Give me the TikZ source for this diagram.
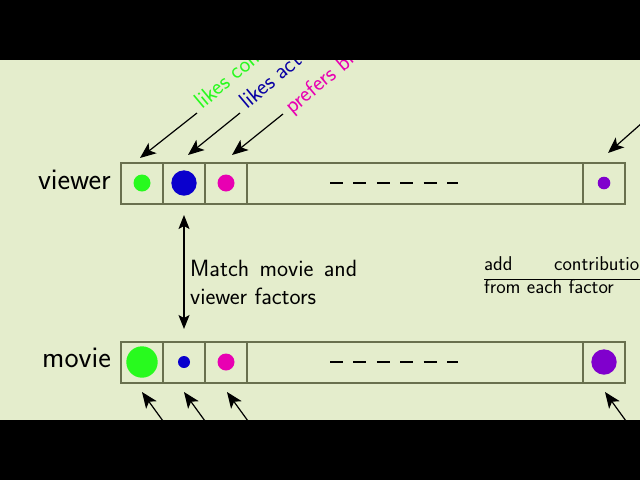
\documentclass[tikz,border=0pt]{standalone}
\usetikzlibrary{arrows.meta}
\definecolor{slidebg}{RGB}{228,237,204}
\definecolor{boxline}{RGB}{105,112,78}
\definecolor{fgreen}{RGB}{40,250,30}
\definecolor{fblue}{RGB}{10,0,205}
\definecolor{fmagenta}{RGB}{232,0,178}
\definecolor{fpurple}{RGB}{128,0,205}
\tikzset{
  factorbox/.style={draw=boxline,line width=1.1pt},
  pointer/.style={-{Stealth[length=16pt,width=13pt,inset=4pt]},line width=1.2pt},
  matcharrow/.style={{Stealth[length=14pt,width=11pt,inset=3pt]}-{Stealth[length=14pt,width=11pt,inset=3pt]},line width=1.2pt},
  rowlabel/.style={font=\sffamily\fontsize{30}{32}\selectfont,anchor=base east,inner sep=0pt},
  bodytext/.style={font=\sffamily\fontsize{23.5}{28}\selectfont,align=left,anchor=base west,inner sep=0pt},
  sidetext/.style={font=\sffamily\fontsize{20}{23}\selectfont,align=left,anchor=base west,inner sep=0pt},
  factorlabel/.style={font=\sffamily\fontsize{23}{26}\selectfont,anchor=base west,inner sep=0pt,rotate=40},
}
\begin{document}
\begin{tikzpicture}[x=1pt,y=-1pt]
  \useasboundingbox (0,0) rectangle (640,480);
  \fill[slidebg] (0,60) rectangle (640,420);
  \begin{scope}
    \clip (0,60) rectangle (640,420);
    % viewer row
    \draw[factorbox] (121,163) rectangle (625,204);
    \foreach \x in {163,205,247,583} \draw[factorbox] (\x,163) -- (\x,204);
    \fill[fgreen] (142,183) circle (8.5);
    \fill[fblue] (184,183) circle (12.7);
    \fill[fmagenta] (226,183) circle (8.5);
    \fill[fpurple] (604,183) circle (6.3);
    \draw[line width=2pt,dash pattern=on 13pt off 10.4pt] (330,183) -- (458,183);
    \node[rowlabel] (viewerlbl) at (111,189) {viewer};
    % movie row
    \draw[factorbox] (121,342) rectangle (625,383);
    \foreach \x in {163,205,247,583} \draw[factorbox] (\x,342) -- (\x,383);
    \fill[fgreen] (142,362) circle (15.7);
    \fill[fblue] (184,362) circle (6);
    \fill[fmagenta] (226,362) circle (8.5);
    \fill[fpurple] (604,362) circle (12.7);
    \draw[line width=2pt,dash pattern=on 13pt off 10.4pt] (330,362) -- (458,362);
    \node[rowlabel] (movielbl) at (111,367) {movie};
    % viewer factors
    \node[factorlabel,text=fgreen] (comedy) at (202,110) {likes com};
    \node[factorlabel,text=fblue!80!black] (action) at (247,110) {likes act};
    \node[factorlabel,text=fmagenta] (blockbuster) at (292,115) {prefers bl};
    \coordinate (vt1) at (197,113); \coordinate (vh1) at (140,158);
    \coordinate (vt2) at (240,113); \coordinate (vh2) at (188,155);
    \coordinate (vt3) at (283,114); \coordinate (vh3) at (232,155);
    \coordinate (vt4) at (642,123); \coordinate (vh4) at (608,153);
    \foreach \i in {1,...,4} \draw[pointer] (vt\i) -- (vh\i);
    % movie factors
    \coordinate (mt1) at (163,421); \coordinate (mh1) at (142,392);
    \coordinate (mt2) at (205,421); \coordinate (mh2) at (184,392);
    \coordinate (mt3) at (248,421); \coordinate (mh3) at (227,392);
    \coordinate (mt4) at (626,421); \coordinate (mh4) at (605,392);
    \foreach \i in {1,...,4} \draw[pointer] (mt\i) -- (mh\i);
    % matching
    \coordinate (mtop) at (184,215);
    \coordinate (mbot) at (184,329);
    \draw[matcharrow] (mtop) -- (mbot);
    \node[bodytext] (match) at (190,304) {\makebox[167pt][s]{Match movie and}\\viewer factors};
    \node[sidetext] (addup) at (484,293) {\makebox[172pt][s]{add contributions}\\from each factor};
    \coordinate (rulel) at (484,279);
    \coordinate (ruler) at (640,279);
    \draw[line width=1pt] (rulel) -- (ruler);
  \end{scope}
  \fill[black] (0,0) rectangle (640,60);
  \fill[black] (0,420) rectangle (640,480);
\end{tikzpicture}
\end{document}
